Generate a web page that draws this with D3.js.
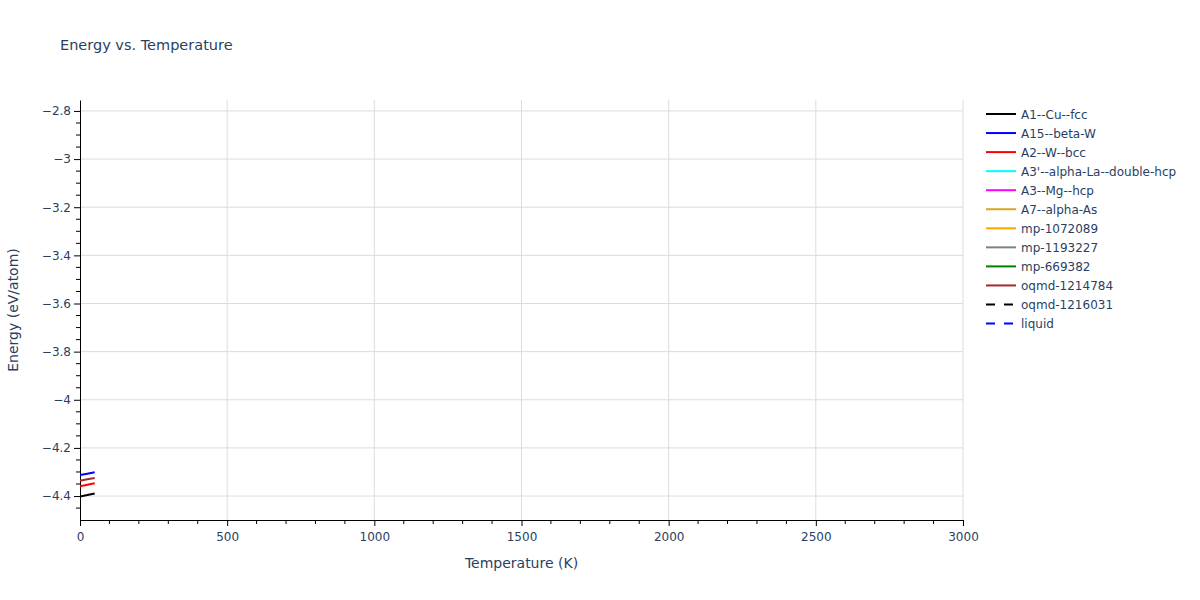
<!DOCTYPE html>
<html>
<head>
<meta charset="utf-8">
<script src="https://cdn.jsdelivr.net/npm/d3@7"></script>
<style>
body { margin: 0; background: #fff; }
svg { font-family: "DejaVu Sans", Verdana, sans-serif; }
</style>
</head>
<body>
<svg id="chart" width="1200" height="600"></svg>
<script>
// ---- data ----
const seriesNames = ["A1--Cu--fcc", "A15--beta-W", "A2--W--bcc", "A3'--alpha-La--double-hcp",
  "A3--Mg--hcp", "A7--alpha-As", "mp-1072089", "mp-1193227", "mp-669382",
  "oqmd-1214784", "oqmd-1216031", "liquid"];
const seriesColors = ["black", "blue", "red", "cyan", "magenta", "goldenrod", "orange",
  "gray", "green", "brown", "black", "blue"];
const seriesDashed = [false, false, false, false, false, false, false, false, false, false, true, true];
const temps = [0, 25, 50];
const energyA1 = [-4.402, -4.396, -4.389];
const energyA15 = [-4.313, -4.307, -4.301];
const energyA2 = [-4.359, -4.353, -4.347];
const energyA3p = [];
const energyA3 = [];
const energyA7 = [];
const energyMp1072089 = [];
const energyMp1193227 = [];
const energyMp669382 = [];
const energyOqmd1214784 = [-4.336, -4.330, -4.325];
const energyOqmd1216031 = [];
const energyLiquid = [];
const seriesValues = [energyA1, energyA15, energyA2, energyA3p, energyA3, energyA7,
  energyMp1072089, energyMp1193227, energyMp669382, energyOqmd1214784, energyOqmd1216031, energyLiquid];
const xTicks = [0, 500, 1000, 1500, 2000, 2500, 3000];
const yTicks = [-2.8, -3, -3.2, -3.4, -3.6, -3.8, -4, -4.2, -4.4];
const xDomain = [0, 3000];
const yDomain = [-4.4995, -2.7545];

// ---- layout ----
const svg = d3.select("#chart");
const L = 80, R = 963, T = 100, B = 520;
const textColor = "#2a3f5f";
const x = d3.scaleLinear().domain(xDomain).range([L, R]);
const y = d3.scaleLinear().domain(yDomain).range([B, T]);

// grid
svg.append("g").selectAll("line").data(xTicks.filter(d => d !== 0)).join("line")
  .attr("x1", d => x(d)).attr("x2", d => x(d)).attr("y1", T).attr("y2", B)
  .attr("stroke", "#dcdcdc").attr("stroke-width", 1);
svg.append("g").selectAll("line").data(yTicks).join("line")
  .attr("x1", L).attr("x2", R).attr("y1", d => y(d)).attr("y2", d => y(d))
  .attr("stroke", "#dcdcdc").attr("stroke-width", 1);

// minor ticks
const xMinor = d3.range(0, 3001, 100).filter(d => d % 500 !== 0);
const yMinor = d3.range(-4.45, -2.75, 0.05).filter(d => Math.abs(Math.round(d * 5) - d * 5) > 0.01);

const fmtY = d => (d < 0 ? "\u2212" : "") + Math.abs(d).toString();
const fmtX = d => String(d);

// x axis
const xAxis = svg.append("g").attr("transform", `translate(0,${B})`)
  .call(d3.axisBottom(x).tickValues(xTicks).tickFormat(fmtX).tickSize(6).tickSizeOuter(0).tickPadding(6));
xAxis.append("g").selectAll("line").data(xMinor).join("line")
  .attr("x1", d => x(d)).attr("x2", d => x(d)).attr("y1", 0).attr("y2", 4).attr("stroke", "black");
// y axis
const yAxis = svg.append("g").attr("transform", `translate(${L},0)`)
  .call(d3.axisLeft(y).tickValues(yTicks).tickFormat(fmtY).tickSize(6).tickSizeOuter(0).tickPadding(3));
yAxis.append("g").selectAll("line").data(yMinor).join("line")
  .attr("y1", d => y(d)).attr("y2", d => y(d)).attr("x1", 0).attr("x2", -4).attr("stroke", "black");

[xAxis, yAxis].forEach(a => {
  a.select(".domain").attr("stroke", "black").attr("stroke-width", 1);
  a.selectAll(".tick line").attr("stroke", "black");
  a.selectAll(".tick text").attr("fill", textColor).style("font-size", "12px")
   .style("font-family", '"DejaVu Sans", Verdana, sans-serif');
});

// lines
const clip = svg.append("clipPath").attr("id", "clip").append("rect")
  .attr("x", L).attr("y", T).attr("width", R - L).attr("height", B - T);
const lineGen = d3.line().x(d => x(d[0])).y(d => y(d[1]));
const plotG = svg.append("g").attr("clip-path", "url(#clip)");
seriesNames.forEach((name, i) => {
  const vals = seriesValues[i];
  if (!vals.length) return;
  const pts = temps.slice(0, vals.length).map((t, j) => [t, vals[j]]);
  plotG.append("path").datum(pts).attr("d", lineGen)
    .attr("fill", "none").attr("stroke", seriesColors[i]).attr("stroke-width", 2)
    .attr("stroke-dasharray", seriesDashed[i] ? "9,9" : null);
});

// title
svg.append("text").attr("x", 60).attr("y", 50).text("Energy vs. Temperature")
  .attr("fill", textColor).style("font-size", "14.5px");
// axis titles
svg.append("text").attr("x", (L + R) / 2).attr("y", 568).attr("text-anchor", "middle")
  .text("Temperature (K)").attr("fill", textColor).style("font-size", "14px");
svg.append("text").attr("transform", `translate(18,${(T + B) / 2}) rotate(-90)`)
  .attr("text-anchor", "middle").text("Energy (eV/atom)")
  .attr("fill", textColor).style("font-size", "14px");

// legend
const leg = svg.append("g");
seriesNames.forEach((name, i) => {
  const ly = 114 + i * 19.05;
  leg.append("line").attr("x1", 986).attr("x2", 1016).attr("y1", ly).attr("y2", ly)
    .attr("stroke", seriesColors[i]).attr("stroke-width", 2)
    .attr("stroke-dasharray", seriesDashed[i] ? "9,9" : null);
  leg.append("text").attr("x", 1021).attr("y", ly + 4.5).text(name)
    .attr("fill", textColor).style("font-size", "12px");
});
</script>
</body>
</html>
